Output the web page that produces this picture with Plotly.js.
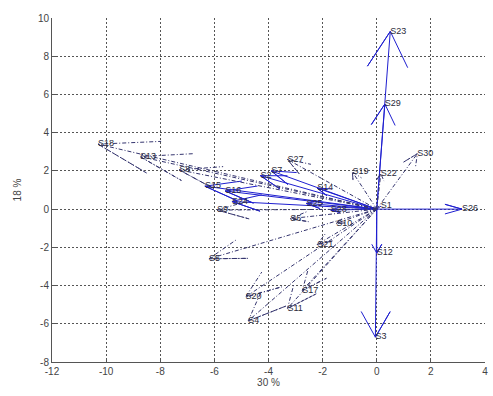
<!DOCTYPE html>
<html>
<head>
<meta charset="utf-8">
<script src="https://cdn.plot.ly/plotly-3.0.1.min.js"></script>
<style>
  html, body { margin: 0; padding: 0; background: #ffffff; }
  #chart { width: 493px; height: 396px; }
</style>
</head>
<body>
<div id="chart"></div>
<script>
// Series A (solid blue compass arrows)
const labelsA = ["S1", "S2", "S3", "S7", "S12", "S14", "S15", "S16", "S23", "S24", "S25", "S26", "S28", "S29"];
const xA = [0.15, -4.3, -0.05, -3.9, 0.0, -2.2, -6.35, -5.6, 0.5, -5.35, -2.6, 3.15, -1.7, 0.3];
const yA = [0.15, 1.75, -6.7, 2.0, -2.3, 1.1, 1.2, 0.95, 9.3, 0.4, 0.3, 0.0, -0.05, 5.5];

// Series B (dashed dark compass arrows)
const labelsB = ["S4", "S5", "S6", "S8", "S9", "S10", "S11", "S13", "S17", "S18", "S19", "S20", "S21", "S22", "S27", "S30"];
const xB = [-4.75, -6.2, -3.2, -7.3, -5.9, -1.5, -3.3, -8.75, -2.75, -10.3, -0.9, -4.85, -2.2, 0.15, -3.3, 1.5];
const yB = [-5.85, -2.6, -0.5, 2.05, -0.05, -0.75, -5.2, 2.75, -4.25, 3.4, 1.95, -4.6, -1.85, 1.85, 2.6, 2.9];

const xTicks = [-12, -10, -8, -6, -4, -2, 0, 2, 4];
const yTicks = [-8, -6, -4, -2, 0, 2, 4, 6, 8, 10];

// MATLAB compass arrow geometry: origin -> tip -> head1 -> tip -> head2
function compassPath(us, vs) {
  const px = [], py = [];
  const a = [0, 1, 0.8, 1, 0.8];
  const b = [0, 0, 0.08, 0, -0.08];
  for (let k = 0; k < us.length; k++) {
    const u = us[k], v = vs[k];
    for (let j = 0; j < a.length; j++) {
      px.push(a[j] * u - b[j] * v);
      py.push(a[j] * v + b[j] * u);
    }
    px.push(null); py.push(null);
  }
  return {x: px, y: py};
}

const pA = compassPath(xA, yA);
const pB = compassPath(xB, yB);

const traces = [
  {x: pA.x, y: pA.y, mode: 'lines', type: 'scatter', hoverinfo: 'skip',
   line: {color: '#1f1fd0', width: 1}, connectgaps: false, showlegend: false},
  {x: pB.x, y: pB.y, mode: 'lines', type: 'scatter', hoverinfo: 'skip',
   line: {color: '#34346e', width: 1, dash: '4px,2px,1px,2px'}, connectgaps: false, showlegend: false},
  {x: xA.concat(xB), y: yA.concat(yB), text: labelsA.concat(labelsB),
   mode: 'text', type: 'scatter', textposition: 'middle right',
   textfont: {family: 'Liberation Sans, Arial, sans-serif', size: 9, color: '#2a2a3a'},
   showlegend: false, hoverinfo: 'skip'}
];

const axisCommon = {
  showgrid: true, gridcolor: '#555555', gridwidth: 1, griddash: '2px,2px',
  zeroline: false, showline: true, linecolor: '#555555', linewidth: 1,
  ticks: 'inside', ticklen: 4, tickcolor: '#555555',
  tickfont: {family: 'Liberation Sans, Arial, sans-serif', size: 10, color: '#444444'},
  mirror: false
};

const layout = {
  width: 493, height: 396,
  margin: {l: 52, r: 8, t: 18, b: 34},
  paper_bgcolor: '#ffffff', plot_bgcolor: '#ffffff',
  xaxis: Object.assign({}, axisCommon, {
    range: [-12, 4], tickvals: xTicks, ticktext: xTicks.map(String),
    title: {text: '30 %', standoff: 2, font: {family: 'Liberation Sans, Arial, sans-serif', size: 10, color: '#444444'}}
  }),
  yaxis: Object.assign({}, axisCommon, {
    range: [-8, 10], tickvals: yTicks, ticktext: yTicks.map(String),
    title: {text: '18 %', standoff: 14, font: {family: 'Liberation Sans, Arial, sans-serif', size: 10, color: '#444444'}}
  }),
  showlegend: false
};

Plotly.newPlot('chart', traces, layout, {displayModeBar: false, staticPlot: true});
</script>
</body>
</html>
